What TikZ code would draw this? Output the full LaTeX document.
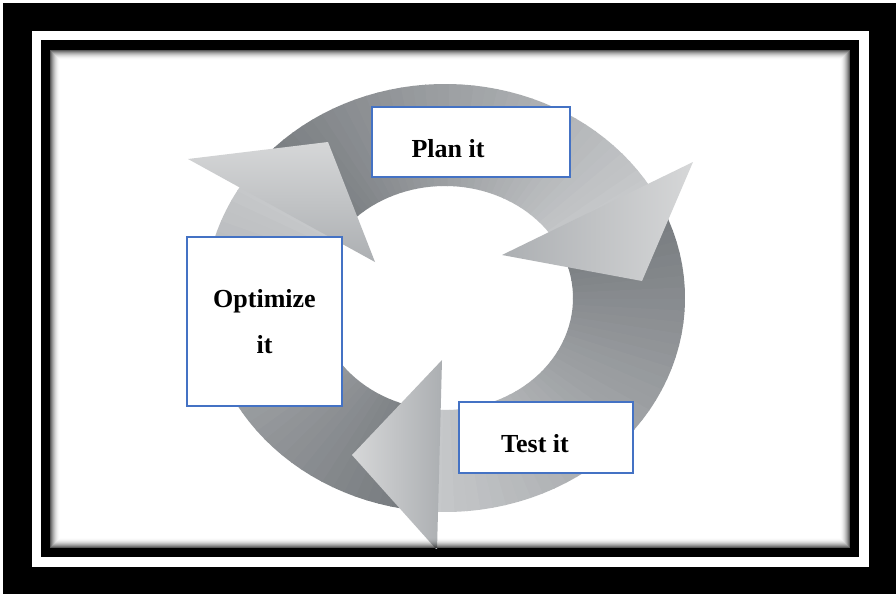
\documentclass[tikz,border=0pt]{standalone}
\usepackage{fontspec}
\setmainfont{Liberation Serif}
\definecolor{boxblue}{RGB}{68,114,196}
\definecolor{ringdark}{RGB}{116,120,124}
\definecolor{ringlight}{RGB}{198,200,202}
\definecolor{headlight}{RGB}{214,215,216}
\definecolor{headdark}{RGB}{172,175,178}

\begin{document}
\begin{tikzpicture}[x=1pt, y=-1pt, every node/.style={align=center},
  stepbox/.style={draw=boxblue, line width=2pt, fill=white, inner sep=0pt},
  steptext/.style={font=\fontsize{26}{46}\selectfont\bfseries, inner sep=0pt}]
\useasboundingbox (0,0) rectangle (896,594);
% frame
\fill[white] (0,0) rectangle (896,594);
\fill[black] (3,3) rectangle (896,594);
\fill[white] (32,31) rectangle (869,567);
\fill[black] (41,40) rectangle (859,557);
\fill[white] (50,50) rectangle (850,548);
\begin{scope}
\clip (50,50) rectangle (850,548);
% ring: three segments, dark at the tail, light towards the head
\foreach \s/\e in {213/329, 329/454, 94/213} {
  \foreach \i in {0,...,39} {
    \pgfmathsetmacro\a{\s+(\e-\s)*\i/40}
    \pgfmathsetmacro\b{\s+(\e-\s)*(\i+1)/40+0.3}
    \pgfmathtruncatemacro\m{100*\i/39}
    \fill[ringlight!\m!ringdark, shift={(445,298)}] (\a:240 and 214)
      arc[start angle=\a, end angle=\b, x radius=240, y radius=214]
      -- (\b:128 and 112)
      arc[start angle=\b, end angle=\a, x radius=128, y radius=112] -- cycle;
  }
}
% arrow heads
\shade[top color=headlight, bottom color=headdark] (188,159) -- (328,142) -- (375,262) -- cycle;
\shade[left color=headdark, right color=headlight] (502,255) -- (642,281) -- (693,162) -- cycle;
\shade[left color=headlight, right color=headdark] (442,360) -- (352,455) -- (437,550) -- cycle;
\end{scope}
% inner shadow of the frame
\foreach \i in {0,...,9} {
  \pgfmathsetmacro\op{0.65*(1-\i/10)^2}
  \draw[black, opacity=\op, line width=1pt] (50.5+\i,50.5+\i) rectangle (849.5-\i,547.5-\i);
}
% boxes
\node (plan)     [stepbox, minimum width=198pt, minimum height=70pt]  at (471,142)   {};
\node (test)     [stepbox, minimum width=174pt, minimum height=71pt]  at (546,437.5) {};
\node (optimize) [stepbox, minimum width=155pt, minimum height=169pt] at (264.5,321.5) {};
\node (plan label)     [steptext] at (448,148.5) {Plan it};
\node (test label)     [steptext] at (535,444)   {Test it};
\node (optimize label) [steptext] at (264.5,322) {Optimize\\it};
\end{tikzpicture}
\end{document}
